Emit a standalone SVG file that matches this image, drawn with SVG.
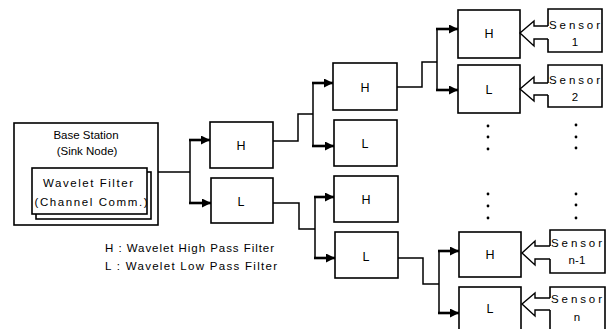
<svg xmlns="http://www.w3.org/2000/svg" width="609" height="329" viewBox="0 0 609 329">
  <style>
    .box { fill: #fff; stroke: #000; stroke-width: 1.6; }
    .wire { fill: none; stroke: #000; stroke-width: 1.5; }
    .arr { fill: none; stroke: #000; stroke-width: 2.6; marker-end: url(#head); }
    .feed { fill: #fff; stroke: #000; stroke-width: 1.4; stroke-linejoin: miter; }
    .lbl { font-family: "Liberation Sans", Arial, sans-serif; font-size: 12.5px; fill: #000; text-anchor: middle; }
    .txt { font-family: "Liberation Sans", Arial, sans-serif; font-size: 11.5px; fill: #000; }
    .mid { text-anchor: middle; }
    .dot { fill: #000; }
  </style>
  <defs>
    <marker id="head" markerUnits="userSpaceOnUse" markerWidth="9" markerHeight="9" refX="9" refY="4.5" orient="auto">
      <path d="M0,0 L9,4.5 L0,9 z" fill="#000"/>
    </marker>
  </defs>

  <!-- base station -->
  <g id="base-station">
    <rect class="box" x="14" y="123" width="144" height="102"/>
    <text class="txt mid" x="86" y="139">Base Station</text>
    <text class="txt mid" x="87" y="155">(Sink Node)</text>
    <rect class="box" x="36" y="172" width="115" height="47" stroke-width="1.2"/>
    <rect class="box" x="32" y="168" width="115" height="46"/>
    <text class="txt mid" x="88" y="187" textLength="90" lengthAdjust="spacing">Wavelet Filter</text>
    <text class="txt mid" x="91" y="206" textLength="113" lengthAdjust="spacing">(Channel Comm.)</text>
  </g>

  <!-- level 1 -->
  <g id="h1"><rect class="box" x="210" y="122" width="63" height="46"/><text class="lbl" x="241" y="150">H</text></g>
  <g id="l1"><rect class="box" x="211" y="178" width="62" height="45"/><text class="lbl" x="241" y="206">L</text></g>

  <!-- level 2 -->
  <g id="hh"><rect class="box" x="333" y="63" width="64" height="47"/><text class="lbl" x="365" y="92">H</text></g>
  <g id="hl"><rect class="box" x="334" y="120" width="63" height="46"/><text class="lbl" x="365" y="148">L</text></g>
  <g id="lh"><rect class="box" x="334" y="176" width="64" height="46"/><text class="lbl" x="366" y="204">H</text></g>
  <g id="ll"><rect class="box" x="335" y="232" width="63" height="46"/><text class="lbl" x="366" y="261">L</text></g>

  <!-- level 3 -->
  <g id="hhh"><rect class="box" x="458" y="10" width="62" height="48"/><text class="lbl" x="489" y="38">H</text></g>
  <g id="hhl"><rect class="box" x="458" y="65" width="62" height="48"/><text class="lbl" x="489" y="94">L</text></g>
  <g id="llh"><rect class="box" x="459" y="232" width="62" height="45"/><text class="lbl" x="490" y="259">H</text></g>
  <g id="lll"><rect class="box" x="459" y="287" width="62" height="50"/><text class="lbl" x="490" y="313">L</text></g>

  <!-- sensors, each with its hollow feed arrow -->
  <g id="sensor-1">
    <path class="box" d="M548,26 V9 H602 V52 H548 V39"/>
    <path class="feed" d="M548,26 H534 V21 L520,33 L534,46 V39 H548"/>
    <text class="txt" x="549" y="29" textLength="51" lengthAdjust="spacing">Sensor</text>
    <text class="txt mid" x="575" y="46">1</text>
  </g>
  <g id="sensor-2">
    <path class="box" d="M548,83 V65 H602 V107 H548 V95"/>
    <path class="feed" d="M548,83 H534 V77 L520,89 L534,101 V95 H548"/>
    <text class="txt" x="549" y="84" textLength="51" lengthAdjust="spacing">Sensor</text>
    <text class="txt mid" x="575" y="101">2</text>
  </g>
  <g id="sensor-n-1">
    <path class="box" d="M550,246 V230 H605 V273 H550 V259"/>
    <path class="feed" d="M550,246 H535 V241 L522,253 L535,265 V259 H550"/>
    <text class="txt" x="551" y="247" textLength="51" lengthAdjust="spacing">Sensor</text>
    <text class="txt mid" x="577" y="264" textLength="17" lengthAdjust="spacing">n-1</text>
  </g>
  <g id="sensor-n">
    <path class="box" d="M550,298 V287 H605 V337 H550 V310"/>
    <path class="feed" d="M550,298 H535 V293 L522,304 L535,316 V310 H550"/>
    <text class="txt" x="551" y="303" textLength="51" lengthAdjust="spacing">Sensor</text>
    <text class="txt mid" x="577" y="321">n</text>
  </g>

  <!-- ellipsis columns -->
  <g id="ellipsis">
    <circle class="dot" cx="488" cy="126" r="1.4"/>
    <circle class="dot" cx="488" cy="137" r="1.4"/>
    <circle class="dot" cx="488" cy="149" r="1.4"/>
    <circle class="dot" cx="488" cy="194" r="1.4"/>
    <circle class="dot" cx="488" cy="206" r="1.4"/>
    <circle class="dot" cx="488" cy="218" r="1.4"/>
    <circle class="dot" cx="576" cy="125" r="1.4"/>
    <circle class="dot" cx="576" cy="137" r="1.4"/>
    <circle class="dot" cx="576" cy="148" r="1.4"/>
    <circle class="dot" cx="576" cy="194" r="1.4"/>
    <circle class="dot" cx="576" cy="205" r="1.4"/>
    <circle class="dot" cx="576" cy="218" r="1.4"/>
  </g>

  <!-- legend -->
  <g id="legend">
    <text class="txt" x="105" y="252" textLength="169" lengthAdjust="spacing">H : Wavelet High Pass Filter</text>
    <text class="txt" x="105" y="270" textLength="172" lengthAdjust="spacing">L : Wavelet Low Pass Filter</text>
  </g>

  <!-- connectors -->
  <g id="connectors">
    <path class="wire" d="M158,172 H190 M190,140 V203"/>
    <path class="arr" d="M189,140 H210"/>
    <path class="arr" d="M189,203 H211"/>

    <path class="wire" d="M273,141 H298 V114 H313 M313,83 V146"/>
    <path class="arr" d="M312,83 H333"/>
    <path class="arr" d="M312,146 H334"/>

    <path class="wire" d="M273,203 H299 V229 H315 M315,197 V258"/>
    <path class="arr" d="M314,197 H334"/>
    <path class="arr" d="M314,258 H335"/>

    <path class="wire" d="M397,87 H422 V62 H437 M437,29 V90"/>
    <path class="arr" d="M436,29 H458"/>
    <path class="arr" d="M436,90 H458"/>

    <path class="wire" d="M398,258 H423 V284 H439 M439,251 V313"/>
    <path class="arr" d="M438,251 H459"/>
    <path class="arr" d="M438,313 H459"/>
  </g>
</svg>
